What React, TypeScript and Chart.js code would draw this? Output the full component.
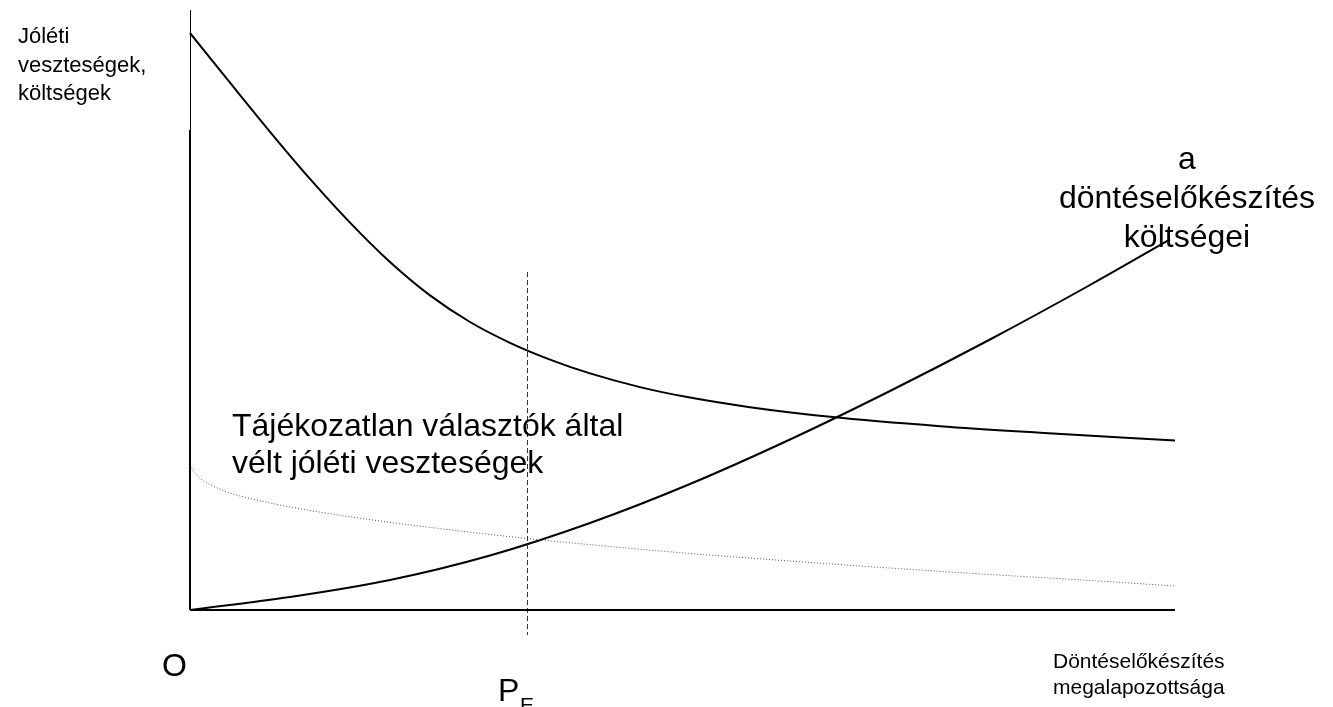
import React, { useEffect, useRef } from "react";
import { Chart, registerables } from "chart.js";

Chart.register(...registerables);

// Schematic units: x = well-foundedness of decision preparation, y = welfare losses / costs
const welfareLossX = [0, 40, 80, 120, 160, 200, 240, 280, 320, 360, 400, 450, 500, 560, 640, 750, 850, 985];
const welfareLossY = [577, 527.3, 478.2, 431.1, 387.4, 348, 314.6, 288, 267.2, 250.4, 236.6, 222.9, 212.4, 202.8, 193.2, 183.8, 177.3, 169.5];

const prepCostX = [0, 100, 200, 300, 400, 500, 600, 700, 800, 900, 980];
const prepCostY = [0, 13, 30, 54.5, 87, 126, 170.5, 219, 270.5, 325, 370.6];

const perceivedX = [0, 5, 12, 23, 40, 56, 90, 120, 190, 245, 337, 420, 500, 600, 692, 800, 900, 985];
const perceivedY = [145, 137, 130, 124, 117, 112.5, 105, 99.5, 89, 82, 71.5, 63.5, 56.5, 49, 42.5, 35.5, 29.5, 24];

const peX = 337.5;
const peTop = 338;
const peBottom = -25;

const xMax = 985;
const yMax = 600;
const yAxisBreak = 480;

const yTitleLines = ["Jóléti", "veszteségek,", "költségek"];
const costLabelLines = ["a", "döntéselőkészítés", "költségei"];
const perceivedLabelLines = ["Tájékozatlan választók által", "vélt jóléti veszteségek"];
const xTitleLines = ["Döntéselőkészítés", "megalapozottsága"];
const originLabel = "O";
const peLabel = "P";
const peSub = "E";

const zip = (xs: number[], ys: number[]) => xs.map((x, i) => ({ x, y: ys[i] }));

const FONT = "'Liberation Sans', Arial, Helvetica, sans-serif";

const textPlugin = {
  id: "labels",
  afterDraw(chart: any) {
    const ctx = chart.ctx as CanvasRenderingContext2D;
    ctx.save();
    ctx.fillStyle = "#000";
    ctx.textBaseline = "alphabetic";
    // y title
    ctx.font = `22px ${FONT}`;
    ctx.textAlign = "left";
    [43, 72, 100].forEach((b, i) => ctx.fillText(yTitleLines[i], 18, b));
    // x title
    ctx.font = `21px ${FONT}`;
    [668, 694].forEach((b, i) => ctx.fillText(xTitleLines[i], 1053, b));
    // cost label
    ctx.font = `32px ${FONT}`;
    ctx.textAlign = "center";
    [169, 208, 247].forEach((b, i) => ctx.fillText(costLabelLines[i], 1187, b));
    // perceived label
    ctx.textAlign = "left";
    [436, 473].forEach((b, i) => ctx.fillText(perceivedLabelLines[i], 232, b));
    // origin
    ctx.fillText(originLabel, 162, 676);
    // P_E
    ctx.fillText(peLabel, 498, 701);
    ctx.font = `21px ${FONT}`;
    ctx.fillText(peSub, 520, 712);
    ctx.restore();
  },
};

export default function App() {
  const ref = useRef<HTMLCanvasElement>(null);
  useEffect(() => {
    if (!ref.current) return;
    const chart = new Chart(ref.current, {
      type: "line",
      data: {
        datasets: [
          {
            label: "x axis",
            data: [{ x: 0, y: 0 }, { x: xMax, y: 0 }],
            borderColor: "#000",
            borderWidth: 2,
            pointRadius: 0,
            clip: false,
          },
          {
            label: "y axis",
            data: [{ x: 0, y: 0 }, { x: 0, y: yAxisBreak }],
            borderColor: "#000",
            borderWidth: 2,
            pointRadius: 0,
            clip: false,
          },
          {
            label: "y axis top",
            data: [{ x: 0.5, y: yAxisBreak }, { x: 0.5, y: yMax }],
            borderColor: "#000",
            borderWidth: 1,
            pointRadius: 0,
            clip: false,
          },
          {
            label: "P_E",
            data: [{ x: peX, y: peTop }, { x: peX, y: peBottom }],
            borderColor: "#333",
            borderWidth: 1,
            borderDash: [5, 3],
            pointRadius: 0,
            clip: false,
          },
          {
            label: "perceived",
            data: zip(perceivedX, perceivedY),
            borderColor: "#555",
            borderWidth: 1,
            borderDash: [1, 2],
            pointRadius: 0,
            cubicInterpolationMode: "monotone",
            clip: false,
          },
          {
            label: "welfare loss",
            data: zip(welfareLossX, welfareLossY),
            borderColor: "#000",
            borderWidth: 2,
            pointRadius: 0,
            cubicInterpolationMode: "monotone",
            clip: false,
          },
          {
            label: "cost",
            data: zip(prepCostX, prepCostY),
            borderColor: "#000",
            borderWidth: 2,
            pointRadius: 0,
            cubicInterpolationMode: "monotone",
            clip: false,
          },
        ],
      },
      options: {
        animation: false,
        responsive: false,
        maintainAspectRatio: false,
        layout: { padding: { left: 190, right: 158, top: 10, bottom: 97 } },
        plugins: { legend: { display: false }, tooltip: { enabled: false } },
        scales: {
          x: { type: "linear", min: 0, max: xMax, display: false },
          y: { type: "linear", min: 0, max: yMax, display: false },
        },
      },
      plugins: [textPlugin],
    });
    return () => chart.destroy();
  }, []);
  return (
    <div style={{ position: "fixed", left: 0, top: 0, width: 1333, height: 707, background: "#fff" }}>
      <canvas ref={ref} width={1333} height={707} style={{ display: "block" }} />
    </div>
  );
}
